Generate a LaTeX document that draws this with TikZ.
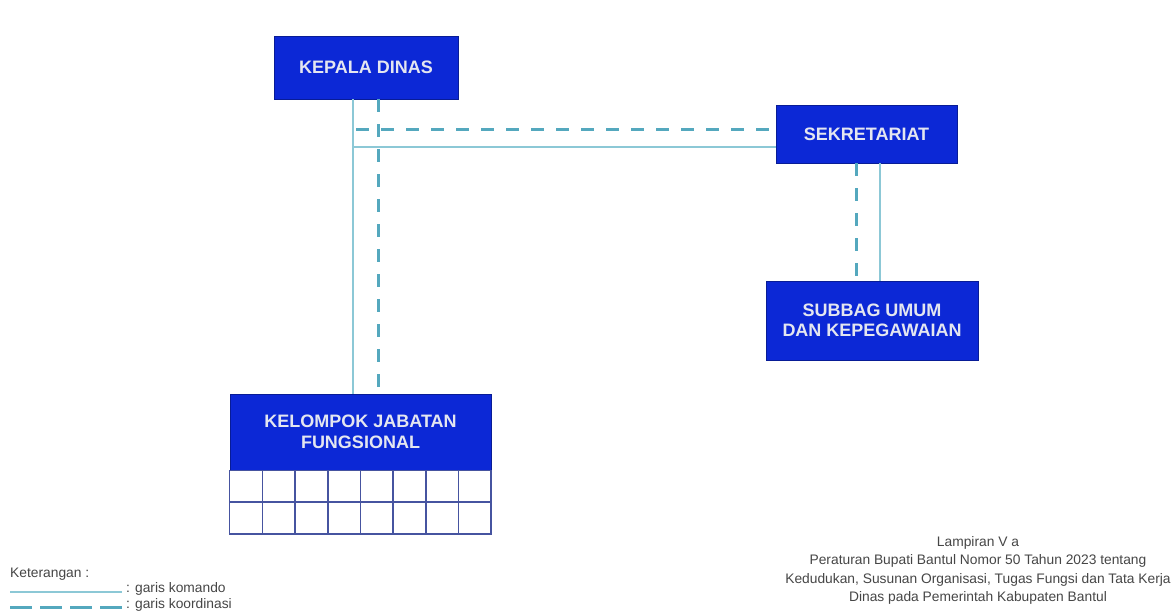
\documentclass[tikz,border=0pt]{standalone}
\usepackage{fontspec}
\setmainfont{Liberation Sans}
\definecolor{boxblue}{RGB}{12,40,214}
\definecolor{boxtext}{RGB}{228,230,240}
\definecolor{komcol}{RGB}{140,200,214}
\definecolor{korcol}{RGB}{84,168,190}
\definecolor{gridcol}{RGB}{70,84,160}
\definecolor{notecol}{RGB}{70,70,70}
\tikzset{
  unit/.style={draw=boxblue!70!black, line width=0.8pt, fill=boxblue, text=boxtext,
    font=\fontsize{18}{20.5}\selectfont\bfseries, align=center, inner sep=0pt},
  komando/.style={draw=komcol, line width=1.6pt},
  koordinasi/.style={draw=korcol, line width=3pt, dash pattern=on 13pt off 12pt},
  legkoord/.style={draw=korcol, line width=3pt, dash pattern=on 22pt off 8pt},
  cellgrid/.style={draw=gridcol, line width=1.6pt},
  note/.style={text=notecol, font=\fontsize{13.8}{18.5}\selectfont, inner sep=0pt},
}
\begin{document}
\begin{tikzpicture}[x=1pt,y=-1pt]
\useasboundingbox[fill=white] (0,0) rectangle (1175,614);

% units
\node[unit, minimum width=184pt, minimum height=63pt] (kd) at (366,67.5) {KEPALA DINAS};
\node[unit, minimum width=181pt, minimum height=58pt] (sek) at (866.5,134) {SEKRETARIAT};
\node[unit, minimum width=212pt, minimum height=79pt] (sub) at (872,320.5) {SUBBAG UMUM\\DAN KEPEGAWAIAN};
\node[unit, minimum width=261pt, minimum height=76pt] (kjf) at (360.5,432) {KELOMPOK JABATAN\\FUNGSIONAL};

% grid under kelompok jabatan fungsional
\coordinate (g0) at (kjf.south west);
\coordinate (g1) at (491,534);
\draw[cellgrid] (g0) rectangle (g1);
\draw[cellgrid] (g0 |- 0,502) -- (g1 |- 0,502);
\foreach \i in {1,...,7} {
  \draw[cellgrid] ({230+\i*32.625},470) -- ({230+\i*32.625},534);
}

% helper coordinates
\coordinate (xs1) at (353,0);
\coordinate (xd1) at (378,0);
\coordinate (xd0) at (356,0);
\coordinate (hs) at (0,147);
\coordinate (hd) at (0,129);
\coordinate (xd2) at (856,0);
\coordinate (xs2) at (880,0);

% garis komando
\draw[komando] (xs1 |- kd.south) -- (xs1 |- kjf.north);
\draw[komando] (xs1 |- hs) -- (hs -| sek.west);
\draw[komando] (xs2 |- sek.south) -- (xs2 |- sub.north);

% garis koordinasi
\draw[koordinasi] (xd1 |- kd.south) -- (xd1 |- kjf.north);
\draw[koordinasi] (xd0 |- hd) -- (hd -| sek.west);
\draw[koordinasi] (xd2 |- sek.south) -- (xd2 |- sub.north);

% legend
\node[note, anchor=west] (ket) at (10,574) {Keterangan :};
\coordinate (la) at (10,592);
\coordinate (lb) at (122,592);
\coordinate (lc) at (10,607);
\coordinate (ld) at (123,607);
\draw[komando] (la) -- (lb);
\draw[legkoord] (lc) -- (ld);
\node[note, anchor=west] (lk1) at (126,589) {: garis komando};
\node[note, anchor=west] (lk2) at (126,605) {: garis koordinasi};

% lampiran
\node[note, align=center, anchor=north] (lamp) at (978,536)
  {Lampiran V a\\Peraturan Bupati Bantul Nomor 50 Tahun 2023 tentang\\Kedudukan, Susunan Organisasi, Tugas Fungsi dan Tata Kerja\\Dinas pada Pemerintah Kabupaten Bantul};
\end{tikzpicture}
\end{document}
